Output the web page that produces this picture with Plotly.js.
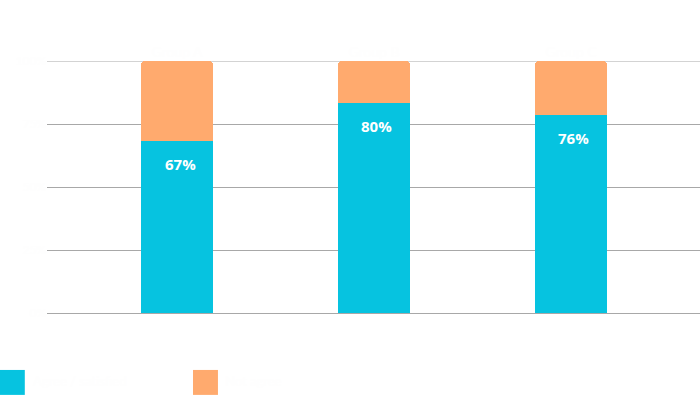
<!DOCTYPE html>
<html>
<head>
<meta charset="utf-8">
<script src="https://cdn.plot.ly/plotly-3.0.1.min.js"></script>
<style>html,body{margin:0;padding:0;background:#fff;}#chart{width:700px;height:395px;}</style>
</head>
<body>
<div id="chart"></div>
<script>
// Data
var categories = [0, 1, 2];
var categoryLabels = ["Group A", "Group B", "Group C"];
var seriesNames = ["Agree / satisfied", "Not agree"];
var agreeValues = [68.3, 83.3, 78.6];
var otherValues = [31.7, 16.7, 21.4];
var agreeLabels = ["67%", "80%", "76%"];
var yTickVals = [0, 25, 50, 75, 100];
var yTickText = ["0%", "25%", "50%", "75%", "100%"];

var teal = "#06C3E0";
var orange = "#FFAA6E";
var gridColor = "#a8a8a8";
var faint = "#fefefe";
var fontFam = "Lato, 'Open Sans', sans-serif";

var traces = [
  {type: "bar", x: categories, y: agreeValues, name: seriesNames[0], marker: {color: teal}, width: 0.365, hoverinfo: "none"},
  {type: "bar", x: categories, y: otherValues, name: seriesNames[1], marker: {color: orange}, width: 0.365, hoverinfo: "none"}
];

var annotations = categories.map(function (c, i) {
  return {x: c, y: agreeValues[i], xref: "x", yref: "y", text: "<b>" + agreeLabels[i] + "</b>",
    showarrow: false, yanchor: "middle", yshift: -23, xshift: 3,
    font: {family: "'Open Sans', sans-serif", size: 15, color: "#ffffff"}};
});
// legend (drawn as layout items to match the large swatches)
annotations.push({xref: "paper", yref: "paper", x: -0.025, y: -0.27, xanchor: "left", yanchor: "middle",
  text: seriesNames[0], showarrow: false, font: {family: fontFam, size: 13, color: faint}});
annotations.push({xref: "paper", yref: "paper", x: 0.27, y: -0.27, xanchor: "left", yanchor: "middle",
  text: seriesNames[1], showarrow: false, font: {family: fontFam, size: 13, color: faint}});

var shapes = [
  {type: "line", xref: "paper", yref: "y", x0: 0, x1: 1, y0: yTickVals[yTickVals.length - 1], y1: yTickVals[yTickVals.length - 1],
    line: {color: gridColor, width: 1}, layer: "below"},
  {type: "rect", xref: "paper", yref: "paper", x0: -0.072, x1: -0.034, y0: -0.325, y1: -0.226, fillcolor: teal, line: {width: 0}},
  {type: "rect", xref: "paper", yref: "paper", x0: 0.2236, x1: 0.2618, y0: -0.325, y1: -0.226, fillcolor: orange, line: {width: 0}}
];

var layout = {
  width: 700, height: 395,
  margin: {l: 47, r: 0, t: 61, b: 82, pad: 0},
  paper_bgcolor: "#ffffff", plot_bgcolor: "#ffffff",
  barmode: "stack",
  barcornerradius: 4,
  showlegend: false,
  font: {family: fontFam, color: faint},
  xaxis: {
    range: [-0.66, 2.655], tickvals: categories, ticktext: categoryLabels,
    side: "top", showgrid: false, zeroline: false, showline: false, ticks: "",
    tickfont: {family: fontFam, size: 14, color: faint}, fixedrange: true
  },
  yaxis: {
    range: [0, 100], tickvals: yTickVals, ticktext: yTickText,
    showgrid: true, gridcolor: gridColor, gridwidth: 1,
    zeroline: true, zerolinecolor: gridColor, zerolinewidth: 1,
    showline: false, ticks: "", tickfont: {family: fontFam, size: 12, color: faint},
    fixedrange: true
  },
  annotations: annotations,
  shapes: shapes
};

Plotly.newPlot("chart", traces, layout, {displayModeBar: false, staticPlot: true});
</script>
</body>
</html>
